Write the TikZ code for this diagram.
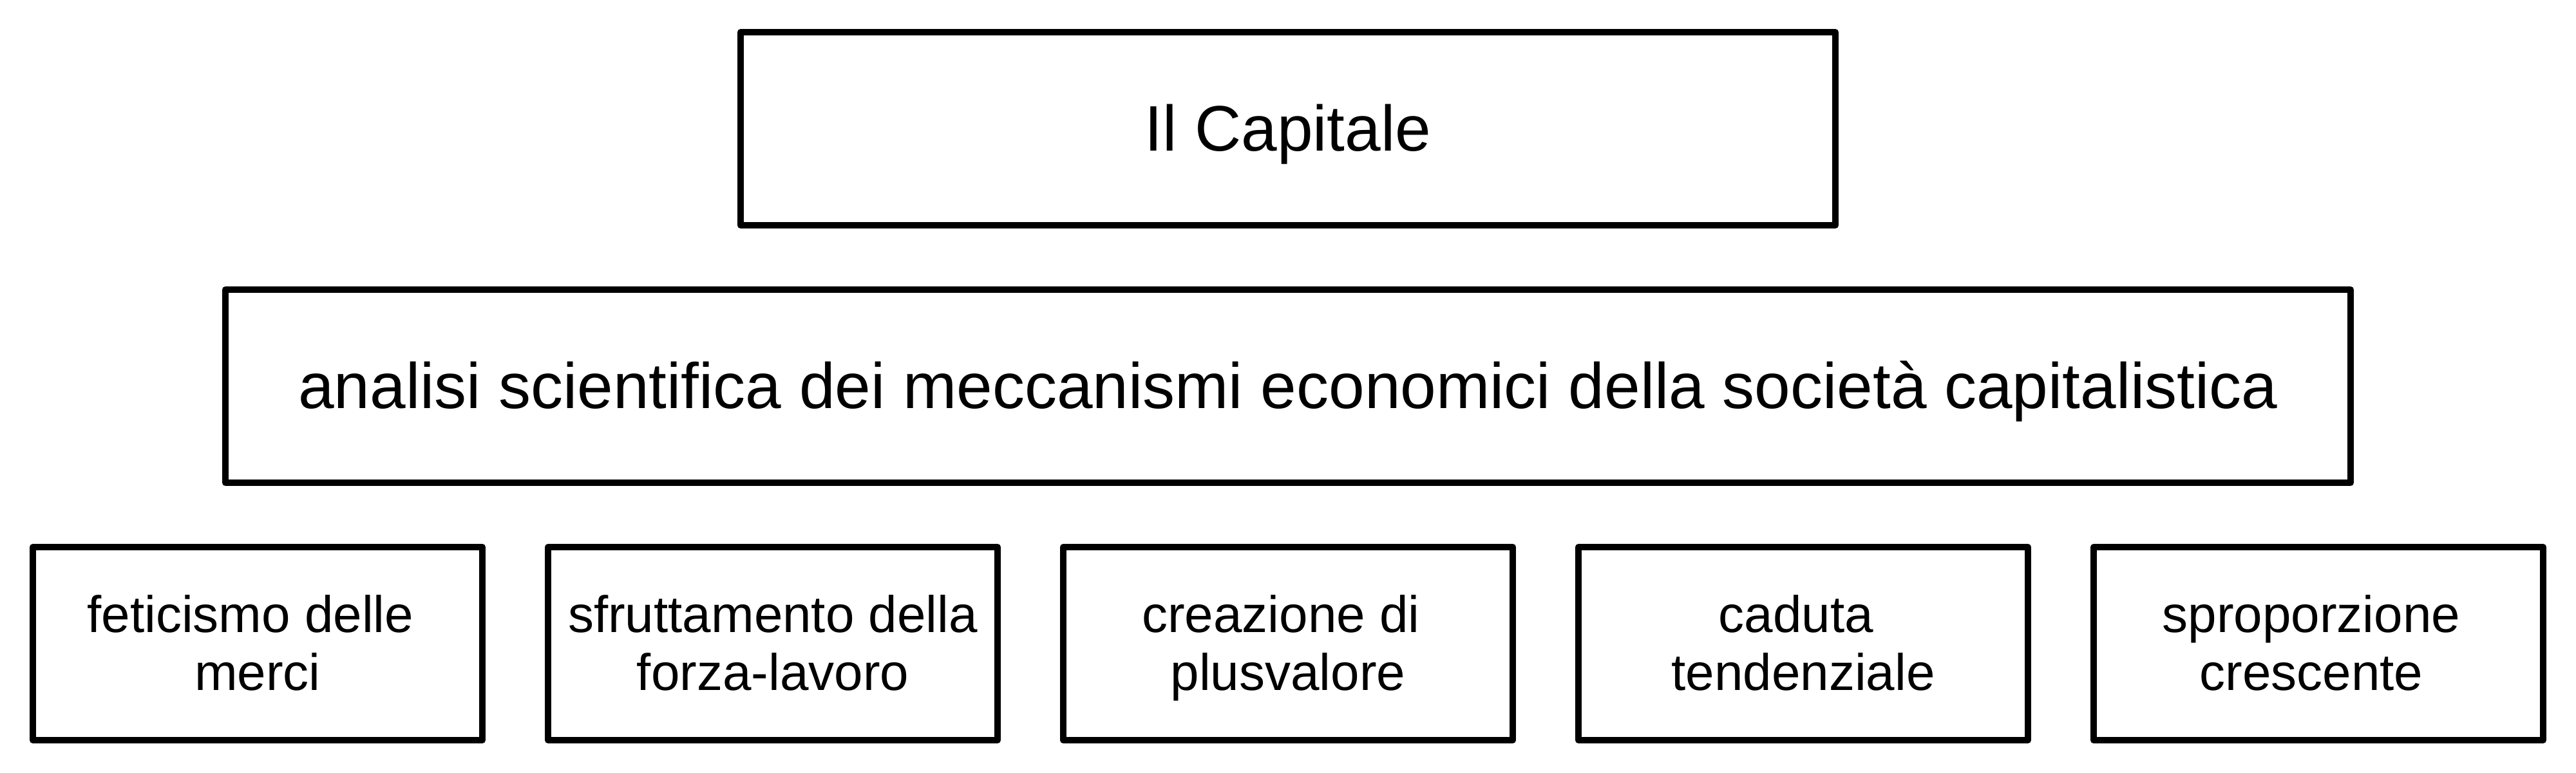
\documentclass[tikz,border=0pt]{standalone}
\usepackage{fontspec}
\setmainfont{Liberation Sans}
\usepackage{tikz}
\usetikzlibrary{positioning}
\newcommand{\mBig}{\fontsize{1cm}{1.15cm}\selectfont}
\newcommand{\mSmall}{\fontsize{0.8cm}{0.9cm}\selectfont}
\newcommand{\mStrut}{\rule[-0.212em]{0pt}{1.117em}}
\newcommand{\mGap}{\kern0.278em}
\newcommand{\topic}[3]{\node[topic,#2] (#1) {\mStrut #3\mStrut}}

\begin{document}
\begin{tikzpicture}[
    box/.style={draw,line width=1mm,line join=round,rectangle,inner sep=0pt,minimum height=3cm},
    title/.style={box,minimum width=17cm,font=\mBig},
    thesis/.style={box,minimum width=33cm,font=\mBig},
    topic/.style={box,minimum width=6.98cm,align=center,font=\mSmall}]
    \useasboundingbox (0,0) rectangle (40,-12);
    \node[title] (cap) at (20,-2) {\mStrut Il Capitale};
    \node[thesis,below=0.9cm of cap] (ana) {\mStrut analisi scientifica dei meccanismi economici della società capitalistica};
    \node[topic] (fet) at (4,-10) {\mStrut feticismo delle\mGap\\ merci\mStrut};
    \topic{sfr}{right=0.92cm of fet}{sfruttamento della\\ forza-lavoro};
    \topic{plu}{right=0.92cm of sfr}{creazione di\mGap\\ plusvalore};
    \topic{cad}{right=0.92cm of plu}{caduta\mGap\\ tendenziale};
    \topic{spr}{right=0.92cm of cad}{sproporzione\mGap\\ crescente\mGap};
\end{tikzpicture}
\end{document}
